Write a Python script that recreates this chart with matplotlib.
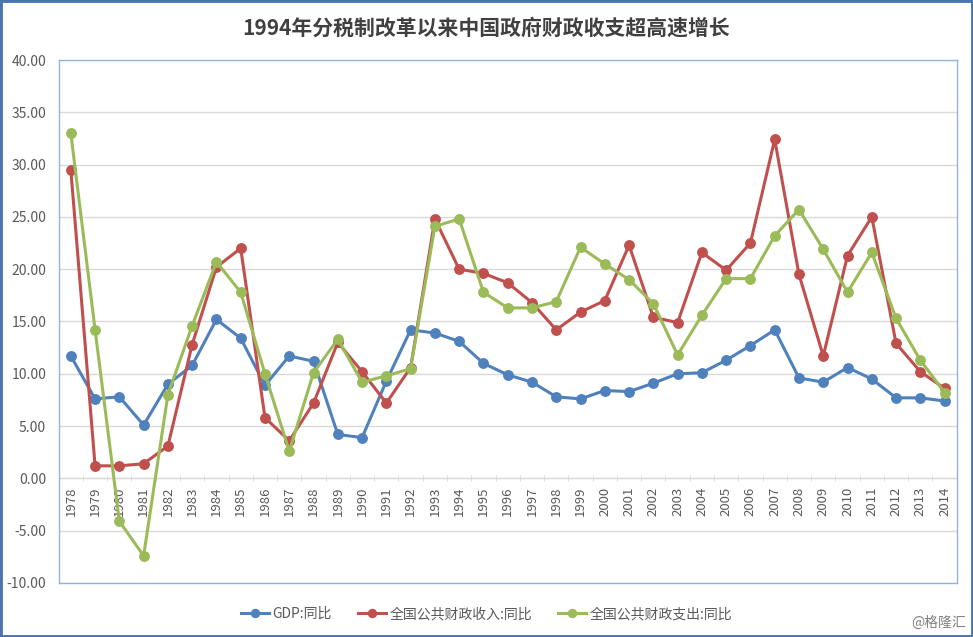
import numpy as np
import matplotlib.pyplot as plt
from matplotlib.patches import Rectangle

plt.rcParams['font.family'] = ['Noto Sans CJK SC', 'DejaVu Sans']

years = [str(y) for y in range(1978, 2015)]

gdp = [11.7, 7.6, 7.8, 5.1, 9.0, 10.8, 15.2, 13.4, 8.9, 11.7, 11.2, 4.2, 3.9,
       9.3, 14.2, 13.9, 13.1, 11.0, 9.9, 9.2, 7.8, 7.6, 8.4, 8.3, 9.1, 10.0,
       10.1, 11.3, 12.7, 14.2, 9.6, 9.2, 10.6, 9.5, 7.7, 7.7, 7.4]
revenue = [29.5, 1.2, 1.2, 1.4, 3.1, 12.8, 20.2, 22.0, 5.8, 3.6, 7.2, 13.0, 10.2,
           7.2, 10.6, 24.8, 20.0, 19.6, 18.7, 16.8, 14.2, 15.9, 17.0, 22.3, 15.4, 14.9,
           21.6, 19.9, 22.5, 32.4, 19.5, 11.7, 21.3, 25.0, 12.9, 10.2, 8.6]
expenditure = [33.0, 14.2, -4.1, -7.4, 8.0, 14.6, 20.7, 17.8, 10.0, 2.6, 10.1, 13.3, 9.2,
               9.8, 10.5, 24.1, 24.8, 17.8, 16.3, 16.3, 16.9, 22.1, 20.5, 19.0, 16.7, 11.8,
               15.6, 19.1, 19.1, 23.2, 25.7, 21.9, 17.8, 21.6, 15.3, 11.3, 8.2]

labels = ["GDP:同比", "全国公共财政收入:同比", "全国公共财政支出:同比"]
colors = ['#4F81BD', '#C0504D', '#9BBB59']

fig = plt.figure(figsize=(9.73, 6.37), dpi=100)
ax = fig.add_axes([0.0603, 0.0848, 0.9230, 0.8210])

x = np.arange(len(years))
for data, lab, c in zip([gdp, revenue, expenditure], labels, colors):
    ax.plot(x, data, color=c, lw=2.2, marker='o', markersize=6.8, label=lab,
            solid_joinstyle='round')

ax.set_xlim(-0.5, len(years) - 0.5)
ax.set_ylim(-10, 40)
yt = np.arange(-10, 41, 5)
ax.set_yticks(yt)
ax.set_yticklabels(['%.2f' % v for v in yt], fontsize=10, color='#595959')
ax.tick_params(axis='y', length=0, pad=9)
ax.grid(axis='y', color='#d9d9d9', lw=1)
ax.set_axisbelow(True)
ax.set_xticks([])
for s in ax.spines.values():
    s.set_color('#95B3D7')
    s.set_linewidth(1)

# category axis sits at y = 0
sec = ax.secondary_xaxis(0.2)
sec.set_xticks(x)
sec.set_xticklabels(years, rotation=90, fontsize=9.5, color='#595959')
sec.set_xticks(np.arange(-0.5, len(years)), minor=True)
sec.tick_params(axis='x', which='major', length=0, pad=6)
sec.tick_params(axis='x', which='minor', length=4, color='#d9d9d9', direction='inout')
sec.spines['bottom'].set_color('#d9d9d9')

fig.text(0.5, 0.956, "1994年分税制改革以来中国政府财政收支超高速增长",
         ha='center', va='center', fontsize=15, fontweight='bold', color='#404040')

fig.legend(loc='center', bbox_to_anchor=(0.5, 0.036), ncol=3, frameon=False,
           fontsize=10, labelcolor='#595959', handlelength=2.0, columnspacing=1.9,
           handletextpad=0.25, markerscale=0.85)

fig.text(0.993, 0.022, "@格隆汇", ha='right', va='center', fontsize=10, color='#808080')

fig.add_artist(Rectangle((0, 0), 1, 1, transform=fig.transFigure, fill=False,
                         ec='#4A76B0', lw=3.5))

plt.savefig('out.png', dpi=100)
